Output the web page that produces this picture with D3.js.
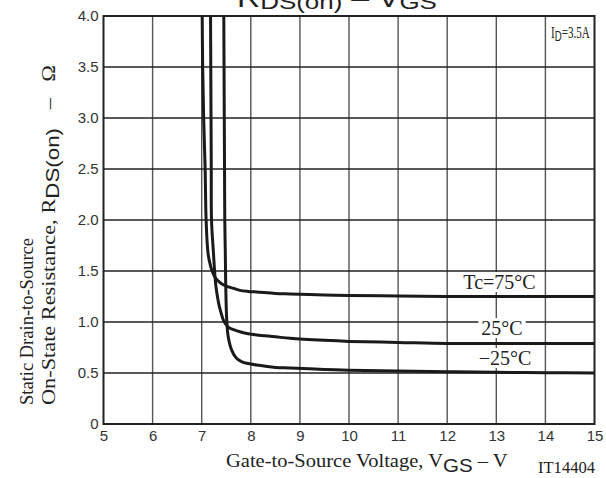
<!DOCTYPE html>
<html><head><meta charset="utf-8">
<script src="https://cdn.jsdelivr.net/npm/d3@7"></script>
<style>body{margin:0;background:#fff}svg{display:block}</style>
</head><body>
<svg id="c" width="606" height="478"></svg>
<script>
// ---- data ----
const xTicks = [5,6,7,8,9,10,11,12,13,14,15];
const yTicks = [0,0.5,1.0,1.5,2.0,2.5,3.0,3.5,4.0];
const yTickLabels = ["0","0.5","1.0","1.5","2.0","2.5","3.0","3.5","4.0"];
const seriesNames = ["Tc=75°C","25°C","\u221225°C"];
const vgs75 = [7.01,7.02,7.04,7.07,7.09,7.13,7.18,7.22,7.28,7.34,7.42,7.51,7.65,7.78,7.95,8.12,8.5,8.8,9.5,10,11,12,13,14,15];
const r75   = [4.0,3.5,3.0,2.5,2.0,1.67,1.55,1.49,1.43,1.40,1.37,1.35,1.33,1.31,1.30,1.295,1.28,1.275,1.265,1.26,1.255,1.25,1.25,1.25,1.25];
const vgs25 = [7.18,7.185,7.19,7.195,7.20,7.24,7.27,7.29,7.32,7.36,7.40,7.44,7.49,7.54,7.65,7.78,7.95,8.12,8.5,8.8,9.5,10,11,12,13,14,15];
const r25   = [4.0,3.5,3.0,2.5,2.0,1.67,1.45,1.35,1.25,1.15,1.08,1.02,0.98,0.95,0.925,0.905,0.885,0.873,0.855,0.84,0.82,0.81,0.80,0.79,0.79,0.79,0.79];
const vgsM25 = [7.45,7.455,7.46,7.465,7.47,7.48,7.49,7.51,7.54,7.61,7.71,7.82,7.92,8.12,8.5,8.8,9.5,10,11,12,13,14,15];
const rM25   = [4.0,3.5,3.0,2.5,2.0,1.7,1.35,1.02,0.856,0.725,0.644,0.61,0.595,0.578,0.555,0.55,0.535,0.528,0.52,0.512,0.507,0.503,0.50];

const svg = d3.select("#c");
const L=103.5, R=594.5, T=16, B=424;
const x = d3.scaleLinear().domain([5,15]).range([L,R]);
const y = d3.scaleLinear().domain([0,4]).range([B,T]);
const sans = "'Liberation Sans', Arial, sans-serif";
const serif = "'Liberation Serif', 'Times New Roman', serif";

// stretch a text (built at origin) horizontally to a measured width
function fit(t, x0, y0, width, anchor, rot){
  const bb = t.node().getBBox();
  const s = width / bb.width;
  const xs = anchor === "end" ? -width : 0;
  if (rot) t.attr("transform", `translate(${x0},${y0}) rotate(-90) translate(${xs},0) scale(${s},1)`);
  else t.attr("transform", `translate(${x0+xs},${y0}) scale(${s},1)`);
  return {bb, s, x: x0+xs, w: width};
}

// title (cut off at top)
const title = svg.append("text").attr("font-family",sans).attr("font-size",26).attr("fill","#222");
title.append("tspan").text("R");
title.append("tspan").attr("font-size",21).attr("dy",2).text("DS(on)");
title.append("tspan").attr("dy",-2).text(" \u2013 V");
title.append("tspan").attr("font-size",21).attr("dy",2).text("GS");
fit(title, 237, 7, 200, "start");

// grid
svg.append("g").selectAll("line").data(xTicks.slice(1,-1)).join("line")
  .attr("x1",d=>x(d)).attr("x2",d=>x(d)).attr("y1",T).attr("y2",B)
  .attr("stroke","#555").attr("stroke-width",1.4);
svg.append("g").selectAll("line").data(yTicks.slice(1,-1)).join("line")
  .attr("x1",L).attr("x2",R).attr("y1",d=>y(d)).attr("y2",d=>y(d))
  .attr("stroke","#222").attr("stroke-width",1.4);

// tick labels via axes
const yAxis = svg.append("g").attr("transform",`translate(${L},0)`)
  .call(d3.axisLeft(y).tickValues(yTicks).tickFormat((d,i)=>yTickLabels[i]).tickSize(0).tickPadding(5));
const xAxis = svg.append("g").attr("transform",`translate(0,${B})`)
  .call(d3.axisBottom(x).tickValues(xTicks).tickFormat(d3.format("d")).tickSize(0).tickPadding(6));
[yAxis,xAxis].forEach(a=>{a.select(".domain").remove();
  a.selectAll("text").attr("font-family",sans).attr("font-size",15).attr("fill","#333");});

// frame
svg.append("rect").attr("x",L).attr("y",T).attr("width",R-L).attr("height",B-T)
  .attr("fill","none").attr("stroke","#222").attr("stroke-width",2);

// curve labels with white boxes
function boxedText(node){
  const bb=node.node().getBBox();
  svg.insert("rect",()=>node.node()).attr("x",bb.x-3).attr("y",bb.y+1).attr("width",bb.width+6).attr("height",bb.height-2).attr("fill","#fff");
}
const lblPos = [[499.5,289],[502,335],[505,365]];
seriesNames.forEach((s,i)=>{
  const t = svg.append("text").attr("x",lblPos[i][0]).attr("y",lblPos[i][1]).attr("text-anchor","middle")
    .attr("font-family",serif).attr("font-size",20).attr("fill","#222").text(s);
  boxedText(t);
});

// I_D label
const idBox = svg.append("rect").attr("fill","#fff");
const idl = svg.append("text").attr("font-family",serif).attr("font-size",16).attr("fill","#222");
idl.append("tspan").text("I");
idl.append("tspan").attr("font-family",sans).attr("font-size",14).attr("dy",3).text("D");
idl.append("tspan").attr("dy",-3).text("=3.5A");
const f = fit(idl, 590, 38, 39, "end");
idBox.attr("x",f.x-3).attr("y",23).attr("width",f.w+5).attr("height",26);

// curves
const line = d3.line().x(d=>x(d[0])).y(d=>y(d[1])).curve(d3.curveCatmullRom.alpha(0.5));
const curves = [d3.zip(vgs75,r75), d3.zip(vgs25,r25), d3.zip(vgsM25,rM25)];
svg.append("g").selectAll("path").data(curves).join("path")
  .attr("d",line).attr("fill","none").attr("stroke","#1a1a1a").attr("stroke-width",3);

// axis titles
const xl = svg.append("text").attr("font-family",serif).attr("font-size",19).attr("fill","#222");
xl.append("tspan").text("Gate-to-Source Voltage, V");
xl.append("tspan").attr("font-family",sans).attr("font-size",19).attr("dy",5).text("GS");
xl.append("tspan").attr("dy",-5).text("  \u2013  V");
fit(xl, 226, 467, 282, "start");
const it = svg.append("text").attr("font-family",serif).attr("font-size",16).attr("fill","#222").text("IT14404");
fit(it, 595, 473, 57, "end");

const yl1 = svg.append("text").attr("font-family",serif).attr("font-size",19).attr("fill","#222").text("Static Drain-to-Source");
fit(yl1, 33, 405, 167, "start", true);
const yl2 = svg.append("text").attr("font-family",serif).attr("font-size",19).attr("fill","#222");
yl2.append("tspan").text("On-State Resistance,");
yl2.append("tspan").attr("dx",5).text("R");
yl2.append("tspan").attr("font-family",sans).attr("font-size",19).attr("dy",4).text("DS(on)");
yl2.append("tspan").attr("dy",-4).attr("dx",16).text("\u2013");
yl2.append("tspan").attr("dx",14).text("\u03A9");
fit(yl2, 55, 405, 340, "start", true);
</script>
</body></html>
